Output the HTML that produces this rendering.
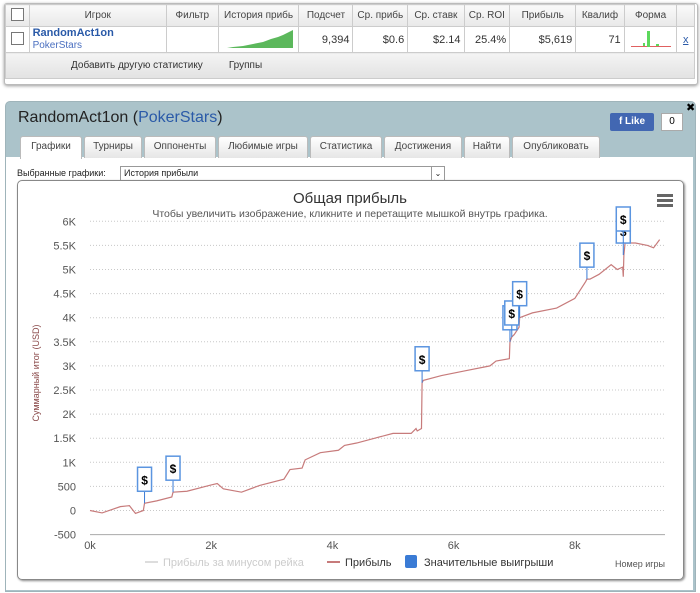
<!DOCTYPE html>
<html><head><meta charset="utf-8">
<style>
body{margin:0;width:700px;height:593px;background:#fff;font-family:"Liberation Sans","DejaVu Sans",sans-serif;position:relative;overflow:hidden}
.abs{position:absolute}
table.t{position:absolute;left:5px;top:4px;width:690px;border-collapse:collapse;font-size:10px;color:#333}
table.t td{border:1px solid #ccc;height:21px;padding:0 3px;white-space:nowrap;overflow:hidden}
.hdr td{background:linear-gradient(#fafafa,#e8e8e8);text-align:center;color:#444}
.row td{height:29px;text-align:right;font-size:11px}
.cb{display:inline-block;width:11px;height:11px;border:1px solid #777;background:#fff}
.tab{position:absolute;top:136px;height:21px;background:linear-gradient(#fff,#e6e6e6);border:1px solid #bbb;border-bottom:none;font-size:10px;color:#444;text-align:center;line-height:20px;border-radius:3px 3px 0 0}
</style></head><body>
<div class="abs" style="left:4px;top:3px;width:692px;height:80px;border:1px solid #bbb;border-radius:3px;box-shadow:0 1px 3px #999;background:#fff"></div>
<table class="t">
<tr class="hdr">
<td style="width:17px"><span class="cb"></span></td>
<td style="width:136px">Игрок</td>
<td style="width:46px">Фильтр</td>
<td style="width:74px">История прибь</td>
<td style="width:48px">Подсчет</td>
<td style="width:48px">Ср. прибь</td>
<td style="width:50px">Ср. ставк</td>
<td style="width:39px">Ср. ROI</td>
<td style="width:61px">Прибыль</td>
<td style="width:42px">Квалиф</td>
<td style="width:46px">Форма</td>
<td style="width:11px"></td></tr>
<tr class="row">
<td style="text-align:center"><span class="cb"></span></td>
<td style="text-align:left;line-height:12px"><b style="color:#2a5aa8">RandomAct1on</b><br><span style="color:#4a6fc0;font-size:10px">PokerStars</span></td>
<td></td>
<td style="text-align:center"><svg width="72" height="22"><polygon points="4,21 10,20 20,19 30,17 40,15 48,12 55,10 60,8 66,5 70,3 70,21" fill="#5cb85c"/></svg></td>
<td>9,394</td><td>$0.6</td><td>$2.14</td><td>25.4%</td><td>$5,619</td><td>71</td>
<td style="text-align:center"><svg width="44" height="22"><rect x="2" y="19" width="40" height="1" fill="#e06060"/><rect x="18" y="4" width="3" height="16" fill="#5cd85c"/><rect x="14" y="16" width="2" height="3" fill="#5cd85c"/><rect x="27" y="17" width="3" height="2" fill="#5cd85c"/></svg></td>
<td style="text-align:center;color:#2a5aa8;text-decoration:underline">x</td></tr>
<tr><td colspan="12" style="height:25px;background:linear-gradient(#f4f4f4,#e2e2e2);font-size:10px;color:#333"><span style="margin-left:62px">Добавить другую статистику</span><span style="margin-left:26px">Группы</span></td></tr>
</table>

<div class="abs" style="left:5px;top:101px;width:689px;height:489px;background:#abc3ca;border-radius:5px 5px 0 0;border:1px solid #9fb4ba"></div>
<div class="abs" style="left:18px;top:109px;font-size:16px;color:#222">RandomAct1on (<span style="color:#2a5aa8">PokerStars</span>)</div>
<div class="abs" style="left:610px;top:113px;width:44px;height:18px;background:#4267b2;border-radius:2px;color:#fff;font-size:10px;font-weight:bold;line-height:18px;text-align:center">f Like</div>
<div class="abs" style="left:661px;top:113px;width:20px;height:16px;background:#fff;border:1px solid #aaa;font-size:10px;line-height:16px;text-align:center">0</div>
<div class="abs" style="left:686px;top:101px;font-size:11px;font-weight:bold">✖</div>

<div class="abs" style="left:6px;top:157px;width:687px;height:433px;background:#fff"></div>
<div class="tab" style="left:20px;width:60px;background:#fff;height:22px">Графики</div>
<div class="tab" style="left:84px;width:56px">Турниры</div>
<div class="tab" style="left:144px;width:70px">Оппоненты</div>
<div class="tab" style="left:218px;width:88px">Любимые игры</div>
<div class="tab" style="left:310px;width:70px">Статистика</div>
<div class="tab" style="left:384px;width:76px">Достижения</div>
<div class="tab" style="left:464px;width:44px">Найти</div>
<div class="tab" style="left:512px;width:86px">Опубликовать</div>

<div class="abs" style="left:17px;top:168px;font-size:9px;color:#222">Выбранные графики:</div>
<div class="abs" style="left:120px;top:166px;width:320px;height:13px;border:1px solid #999;font-size:9px;line-height:13px;padding-left:3px;color:#222">История прибыли<span style="position:absolute;right:0;top:0;width:12px;height:13px;border-left:1px solid #999;text-align:center;font-size:8px">⌄</span></div>

<div class="abs" style="left:17px;top:180px;width:665px;height:398px;border:1px solid #888;border-radius:5px;box-shadow:1px 1px 2px #888"></div>
<svg class="abs" id="chart" style="left:0;top:0" width="700" height="593"></svg>

<script>
const ticksY=[-500,0,500,1000,1500,2000,2500,3000,3500,4000,4500,5000,5500,6000];
const tickYLabels=["-500","0","500","1K","1.5K","2K","2.5K","3K","3.5K","4K","4.5K","5K","5.5K","6K"];
const ticksX=[0,2000,4000,6000,8000];
const tickXLabels=["0k","2k","4k","6k","8k"];
const games=[0,200,500,650,750,880,900,1100,1350,1370,1600,2000,2100,2200,2500,2800,3200,3300,3500,3550,3800,4100,4200,4400,4700,5000,5300,5380,5400,5470,5480,5500,5800,6200,6600,6700,6920,6930,6960,7000,7080,7090,7300,7700,8000,8180,8200,8250,8400,8600,8700,8790,8800,8810,8830,9000,9200,9300,9400];
const profit=[0,-50,80,100,-60,0,150,200,280,380,400,530,560,450,380,520,650,850,880,1050,1200,1250,1350,1400,1500,1600,1600,1700,1650,1700,2650,2700,2800,2900,3000,3100,3150,3500,3600,3650,3800,4000,4100,4200,4400,4750,4800,4800,4900,5100,5000,5050,4850,5300,5550,5550,5500,5450,5620];
const flagGames=[900,1370,5480,6930,6960,7090,8200,8800,8800];
const flagValues=[150,380,2650,3500,3600,4000,4800,5300,5550];

const svg=document.getElementById('chart');const NS='http://www.w3.org/2000/svg';
const X0=90,X1=665,Y0=510.5;
function xs(g){return X0+g*60.6/1000;}
function ys(v){return Y0-v*24.1/500;}
function mk(t,a,txt){const e=document.createElementNS(NS,t);for(const k in a)e.setAttribute(k,a[k]);if(txt!==undefined)e.textContent=txt;svg.appendChild(e);return e;}
let e;
e=mk('text',{x:350,y:203,'text-anchor':'middle','font-size':15,fill:'#333','font-family':'Liberation Sans,sans-serif'},'Общая прибыль');

e=mk('text',{x:350,y:217,'text-anchor':'middle','font-size':10.5,fill:'#555','font-family':'Liberation Sans,sans-serif'},'Чтобы увеличить изображение, кликните и перетащите мышкой внутрь графика.');

e=mk('g',{});
[0,5,10].forEach(d=>{const r=document.createElementNS(NS,'rect');r.setAttribute('x',657);r.setAttribute('y',194+d);r.setAttribute('width',16);r.setAttribute('height',3);r.setAttribute('fill','#666');e.appendChild(r);});
ticksY.forEach((v,i)=>{
 if(v>-500){const l=mk('line',{x1:X0,x2:X1,y1:ys(v),y2:ys(v),stroke:'#c8c8c8','stroke-dasharray':'1,2'});}
 const t=mk('text',{x:76,y:ys(v)+4,'text-anchor':'end','font-size':11,fill:'#555'},tickYLabels[i]);
 
});
e=mk('line',{x1:X0,x2:X1,y1:ys(-500),y2:ys(-500),stroke:'#aaa'});
ticksX.forEach((g,i)=>{
 const t=mk('text',{x:xs(g),y:549,'text-anchor':'middle','font-size':11,fill:'#555'},tickXLabels[i]);
 
});
e=mk('text',{x:0,y:0,transform:'translate(39,373) rotate(-90)','text-anchor':'middle','font-size':9,fill:'#8a4a4a'},'Суммарный итог (USD)');

e=mk('text',{x:665,y:567,'text-anchor':'end','font-size':9,fill:'#555'},'Номер игры');

e=mk('polyline',{points:games.map((g,i)=>xs(g)+','+ys(profit[i])).join(' '),fill:'none',stroke:'#c77b7b','stroke-width':1.2});

flagGames.forEach((g,i)=>{
 const gx=xs(g),gy=ys(flagValues[i]);
 const grp=mk('g',{});
 const l=document.createElementNS(NS,'line');[['x1',gx],['x2',gx],['y1',gy],['y2',gy-12],['stroke','#3a7bd5']].forEach(a=>l.setAttribute(a[0],a[1]));grp.appendChild(l);
 const r=document.createElementNS(NS,'rect');[['x',gx-7],['y',gy-36],['width',14],['height',24],['fill','#fff'],['stroke','#5b95e0'],['stroke-width',1.5]].forEach(a=>r.setAttribute(a[0],a[1]));grp.appendChild(r);
 const t=document.createElementNS(NS,'text');[['x',gx],['y',gy-19],['text-anchor','middle'],['font-size',12],['font-weight','bold'],['fill','#000']].forEach(a=>t.setAttribute(a[0],a[1]));t.textContent='$';grp.appendChild(t);
});
e=mk('line',{x1:145,x2:158,y1:562,y2:562,stroke:'#ddd','stroke-width':2});
e=mk('text',{x:163,y:566,'font-size':11,fill:'#ccc'},'Прибыль за минусом рейка');
e=mk('line',{x1:327,x2:340,y1:562,y2:562,stroke:'#c77b7b','stroke-width':2});
e=mk('text',{x:345,y:566,'font-size':11,fill:'#333'},'Прибыль');
e=mk('rect',{x:405,y:555,width:12,height:13,rx:2,fill:'#3a7bd5'});
e=mk('text',{x:424,y:566,'font-size':11,fill:'#333'},'Значительные выигрыши');
</script>
</body></html>
